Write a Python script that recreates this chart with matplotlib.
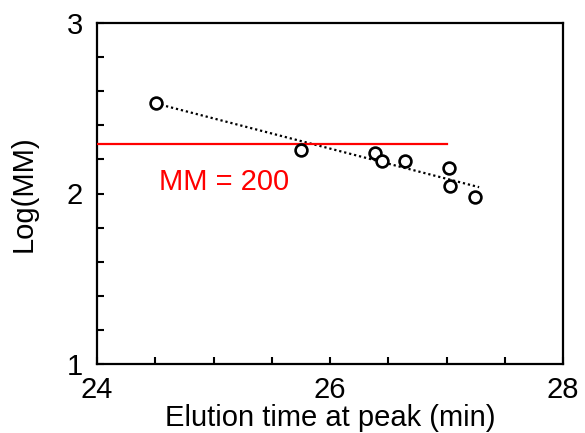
import numpy as np
import matplotlib
matplotlib.use("Agg")
import matplotlib.pyplot as plt
from matplotlib.ticker import MultipleLocator

plt.rcParams['font.family'] = ['Liberation Sans', 'DejaVu Sans']

elution_time = [24.51, 25.75, 26.39, 26.45, 26.64, 27.02, 27.03, 27.245]
log_mm = [2.53, 2.255, 2.236, 2.19, 2.19, 2.148, 2.044, 1.978]
ref_mm = 200
ref_x_range = [24.0, 27.0]
trend_x_range = [24.55, 27.28]

fig = plt.figure(figsize=(5.85, 4.33), dpi=100)
ax = fig.add_axes([97/585, 1 - 364/433, (563-97)/585, (364-23)/433])

# trend line fitted from data
coef = np.polyfit(elution_time, log_mm, 1)
tx = np.array(trend_x_range)
ax.plot(tx, np.polyval(coef, tx), linestyle=(0, (1, 1.3)), color='black', lw=1.6, zorder=2)

ax.plot(ref_x_range, [np.log10(ref_mm) - 0.008] * 2, color='red', lw=1.6, zorder=3)
ax.plot(elution_time, log_mm, linestyle='none', marker='o', markersize=8.5,
        markerfacecolor='white', markeredgecolor='black', markeredgewidth=1.9, zorder=4)

ax.text(24.53, 2.07, f"MM = {ref_mm}", color='red', fontsize=21, va='center', ha='left')

ax.set_xlim(24, 28)
ax.set_ylim(1, 3)
ax.xaxis.set_major_locator(MultipleLocator(2))
ax.xaxis.set_minor_locator(MultipleLocator(0.5))
ax.yaxis.set_major_locator(MultipleLocator(1))
ax.yaxis.set_minor_locator(MultipleLocator(0.2))
ax.tick_params(which='both', direction='in', length=5, width=1.5, top=False, right=False,
               labelsize=21)
ax.tick_params(axis='x', which='major', pad=9)
ax.tick_params(axis='y', which='major', pad=10)
for s in ax.spines.values():
    s.set_linewidth(1.6)

ax.set_xlabel("Elution time at peak (min)", fontsize=21, labelpad=0)
ax.set_ylabel("Log(MM)", fontsize=21, labelpad=21)

fig.savefig("out.png", dpi=100)
